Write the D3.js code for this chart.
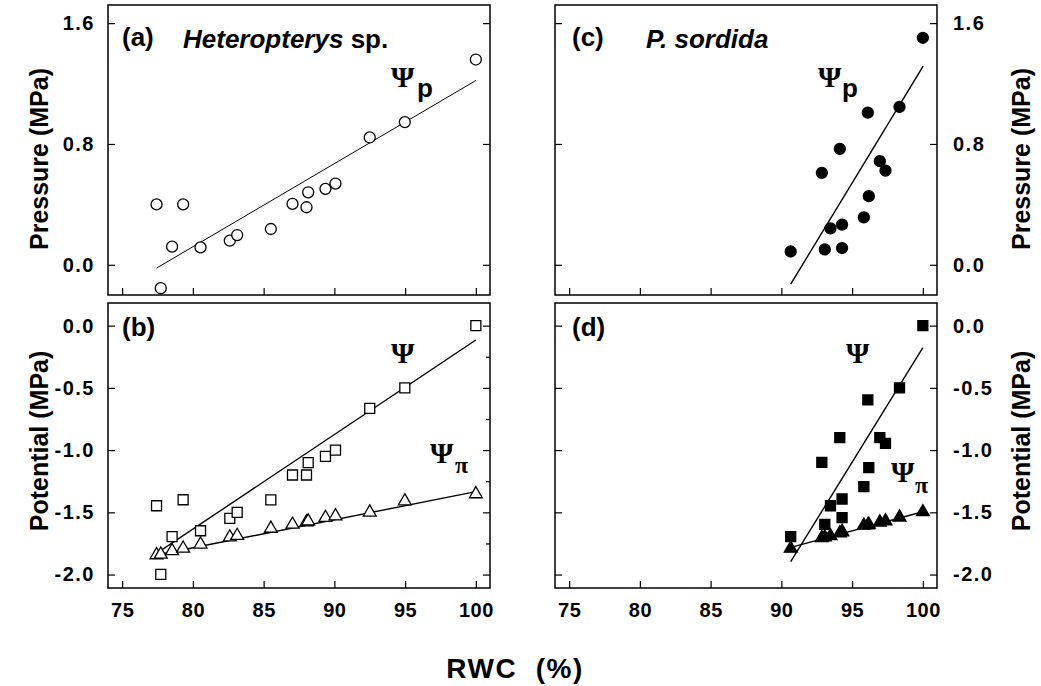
<!DOCTYPE html>
<html>
<head>
<meta charset="utf-8">
<script src="https://cdn.jsdelivr.net/npm/d3@7"></script>
<style>
  body { margin: 0; background: #fff; }
  svg { display: block; }
  .tick text { font-family: "Liberation Sans", Arial, sans-serif; font-weight: bold; }
</style>
</head>
<body>
<svg id="chart" width="1041" height="686"></svg>
<script>
// ---- data ----
// Heteropterys sp. (panels a, b)
var rwcA   = [77.43, 77.73, 78.53, 79.31, 80.54, 82.61, 83.13, 85.51, 87.04, 88.03, 88.15, 89.37, 90.08, 92.5, 94.98, 100];
var psiPA  = [0.40, -0.155, 0.12, 0.40, 0.115, 0.16, 0.197, 0.237, 0.403, 0.381, 0.48, 0.503, 0.538, 0.843, 0.945, 1.359];
var psiA   = [-1.447, -1.998, -1.696, -1.399, -1.648, -1.548, -1.50, -1.40, -1.20, -1.20, -1.10, -1.05, -1.00, -0.664, -0.50, 0.0];
var piA    = [-1.843, -1.838, -1.81, -1.79, -1.757, -1.70, -1.688, -1.63, -1.597, -1.578, -1.572, -1.543, -1.53, -1.50, -1.41, -1.353];
// P. sordida (panels c, d)
var rwcC   = [90.66, 92.86, 93.07, 93.47, 94.13, 94.29, 94.29, 95.83, 96.11, 96.18, 96.96, 97.36, 98.35, 100.0];
var psiPC  = [0.088, 0.609, 0.102, 0.241, 0.768, 0.266, 0.111, 0.314, 1.007, 0.454, 0.686, 0.624, 1.045, 1.503];
var psiC   = [-1.696, -1.098, -1.597, -1.447, -0.90, -1.393, -1.543, -1.294, -0.597, -1.141, -0.90, -0.946, -0.50, 0.0];
var piC    = [-1.79, -1.705, -1.70, -1.69, -1.668, -1.66, -1.655, -1.605, -1.603, -1.597, -1.58, -1.57, -1.54, -1.497];

// regression lines (end points)
var fitPA   = [[77.43, -0.022], [100, 1.22]];
var fitPsiA = [[77.43, -1.83], [100, -0.115]];
var fitPiA  = [[77.43, -1.843], [100, -1.334]];
var fitPC   = [[90.66, -0.128], [100.02, 1.315]];
var fitPsiC = [[90.66, -1.897], [100, -0.177]];
var fitPiC  = [[90.87, -1.776], [100, -1.495]];

var xTicks = [75, 80, 85, 90, 95, 100];
var xTickLabels = ["75", "80", "85", "90", "95", "100"];
var yTopTicks = [0, 0.8, 1.6];
var yTopLabels = ["0.0", "0.8", "1.6"];
var yBotTicks = [0, -0.5, -1.0, -1.5, -2.0];
var yBotLabels = ["0.0", "-0.5", "-1.0", "-1.5", "-2.0"];
var yBotMinor = [-0.25, -0.75, -1.25, -1.75];

var svg = d3.select("#chart");
var sans = '"Liberation Sans", Arial, sans-serif';
var serif = '"Liberation Serif", "Times New Roman", serif';

var cols = [{x0: 108, x1: 490}, {x0: 555, x1: 937}];
var rowTop = {y0: 5, y1: 295};
var rowBot = {y0: 303, y1: 588};

function xScale(c){ return d3.scaleLinear().domain([74, 101]).range([c.x0, c.x1]); }
var yTop = d3.scaleLinear().domain([-0.2, 1.72]).range([rowTop.y1, rowTop.y0]);
var yBot = d3.scaleLinear().domain([-2.108, 0.182]).range([rowBot.y1, rowBot.y0]);

function labelFmt(ticks, labels){
  return function(d){ return labels[ticks.indexOf(d)]; };
}

function panel(col, row, y, yTicks, yLabels, side, showX, minorRight){
  var x = xScale(col);
  var g = svg.append("g");
  // frame
  g.append("rect").attr("x", col.x0).attr("y", row.y0)
    .attr("width", col.x1 - col.x0).attr("height", row.y1 - row.y0)
    .attr("fill", "none").attr("stroke", "#000").attr("stroke-width", 1.5);

  var left = d3.axisLeft(y).tickValues(yTicks).tickSize(-7).tickPadding(13)
    .tickFormat(side === "left" ? labelFmt(yTicks, yLabels) : "");
  g.append("g").attr("class", "yax").attr("transform", "translate(" + col.x0 + ",0)").call(left);

  var right = d3.axisRight(y).tickValues(yTicks).tickSize(-7).tickPadding(16)
    .tickFormat(side === "right" ? labelFmt(yTicks, yLabels) : "");
  g.append("g").attr("class", "yax").attr("transform", "translate(" + col.x1 + ",0)").call(right);

  if (minorRight) {
    g.append("g").attr("transform", "translate(" + col.x1 + ",0)")
      .call(d3.axisRight(y).tickValues(minorRight).tickSize(-4).tickFormat(""));
  }

  var bottom = d3.axisBottom(x).tickValues(xTicks).tickSize(-7).tickPadding(15)
    .tickFormat(showX ? labelFmt(xTicks, xTickLabels) : "");
  g.append("g").attr("class", "xax").attr("transform", "translate(0," + row.y1 + ")").call(bottom);

  g.selectAll(".domain").remove();
  g.selectAll(".tick line").attr("stroke", "#000").attr("stroke-width", 1.2);
  g.selectAll(".yax .tick text").attr("fill", "#000").style("font-size", "20px").style("letter-spacing", "1.5px");
  g.selectAll(".xax .tick text").attr("fill", "#000").style("font-size", "20px").style("letter-spacing", "0.5px");
  return {g: g, x: x, y: y};
}

function fitLine(p, pts, w){
  p.g.append("line")
    .attr("x1", p.x(pts[0][0])).attr("y1", p.y(pts[0][1]))
    .attr("x2", p.x(pts[1][0])).attr("y2", p.y(pts[1][1]))
    .attr("stroke", "#000").attr("stroke-width", w);
}

function marks(p, xs, ys, type, filled){
  var sym = d3.symbol().type(type === "square" ? d3.symbolSquare : type === "triangle" ? d3.symbolTriangle : d3.symbolCircle)
    .size(type === "square" ? 100 : type === "triangle" ? 72 : 95);
  p.g.append("g").selectAll("path").data(xs).enter().append("path")
    .attr("transform", function(d, i){ return "translate(" + p.x(d) + "," + p.y(ys[i]) + ")"; })
    .attr("d", sym)
    .attr("fill", filled ? "#000" : "#fff")
    .attr("stroke", "#000").attr("stroke-width", 1.3);
}

function txt(x, y, s, size, opts){
  opts = opts || {};
  var t = svg.append("text").attr("x", x).attr("y", y)
    .style("font-family", opts.family || sans)
    .style("font-size", size + "px")
    .style("font-weight", opts.weight || "bold")
    .attr("text-anchor", opts.anchor || "start");
  if (opts.italic) t.style("font-style", "italic");
  if (opts.rotate) t.attr("transform", "rotate(-90," + x + "," + y + ")");
  if (opts.ls) t.style("letter-spacing", opts.ls + "px");
  t.text(s);
  return t;
}

// panel a
var pa = panel(cols[0], rowTop, yTop, yTopTicks, yTopLabels, "left", false, null);
fitLine(pa, fitPA, 1);
marks(pa, rwcA, psiPA, "circle", false);

// panel b
var pb = panel(cols[0], rowBot, yBot, yBotTicks, yBotLabels, "left", true, yBotMinor);
fitLine(pb, fitPsiA, 1.4);
fitLine(pb, fitPiA, 1.4);
marks(pb, rwcA, psiA, "square", false);
marks(pb, rwcA, piA, "triangle", false);

// panel c
var pc = panel(cols[1], rowTop, yTop, yTopTicks, yTopLabels, "right", false, null);
fitLine(pc, fitPC, 1.4);
marks(pc, rwcC, psiPC, "circle", true);

// panel d
var pd = panel(cols[1], rowBot, yBot, yBotTicks, yBotLabels, "right", true, null);
fitLine(pd, fitPsiC, 1.4);
fitLine(pd, fitPiC, 1.4);
marks(pd, rwcC, psiC, "square", true);
marks(pd, rwcC, piC, "triangle", true);

// panel labels
txt(122, 46, "(a)", 26);
var h = txt(183, 48, "", 26);
h.append("tspan").style("font-style", "italic").text("Heteropterys");
h.append("tspan").text(" sp.");
txt(122, 336, "(b)", 26);
txt(572, 46, "(c)", 26);
txt(646, 48, "P. sordida", 26, {italic: true});
txt(572, 336, "(d)", 26);

// psi labels
var psiOpt = {family: serif, weight: "bold"};
var piOpt = {family: serif, weight: "bold"};
txt(391, 87, "\u03A8", 30, psiOpt);
txt(417, 97, "p", 26);
txt(391, 363, "\u03A8", 30, psiOpt);
txt(430, 463, "\u03A8", 30, psiOpt);
txt(455, 473, "\u03C0", 24, piOpt);
txt(818, 87, "\u03A8", 30, psiOpt);
txt(842, 97, "p", 26);
txt(846, 363, "\u03A8", 30, psiOpt);
txt(891, 482, "\u03A8", 30, psiOpt);
txt(915, 493, "\u03C0", 24, piOpt);

// axis titles
txt(48, 159, "Pressure (MPa)", 25, {anchor: "middle", rotate: true});
txt(48, 441, "Potential (MPa)", 25, {anchor: "middle", rotate: true});
txt(1030, 159, "Pressure (MPa)", 25, {anchor: "middle", rotate: true});
txt(1030, 441, "Potential (MPa)", 25, {anchor: "middle", rotate: true});
txt(515, 678, "RWC  (%)", 28, {anchor: "middle", ls: 1.5}).style("white-space", "pre");
</script>
</body>
</html>
